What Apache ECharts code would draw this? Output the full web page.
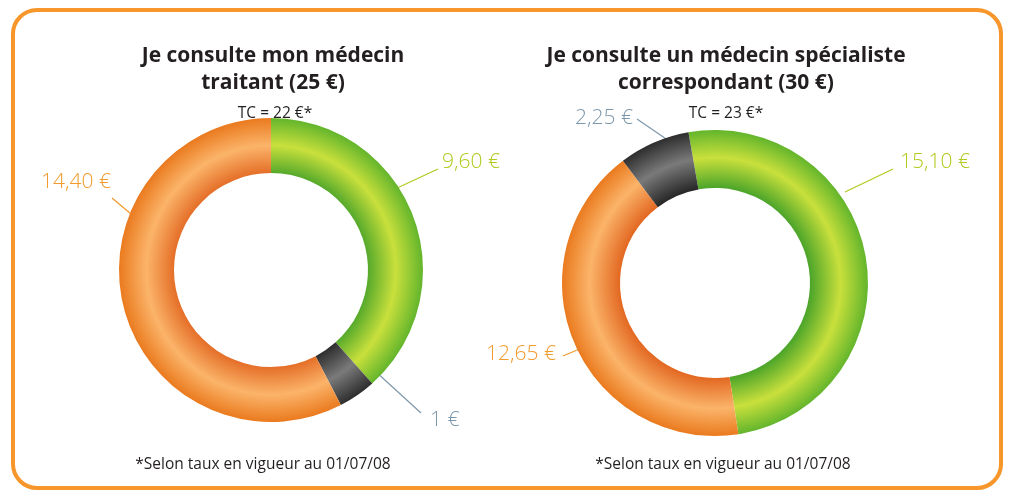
<!DOCTYPE html>
<html>
<head>
<meta charset="utf-8">
<script src="https://cdn.jsdelivr.net/npm/echarts@6/dist/echarts.min.js"></script>
<style>
  html, body { margin: 0; padding: 0; background: #fff; }
  #main { width: 1009px; height: 491px; }
</style>
</head>
<body>
<div id="main"></div>
<script>
// donnees
var parts = ['Part remboursée', 'Participation forfaitaire', 'Complémentaire'];
var leftValues = [9.60, 1, 14.40];
var rightValues = [15.10, 12.65, 2.25];
var rightParts = ['Part remboursée', 'Complémentaire', 'Participation forfaitaire'];
var titles = ['Je consulte mon médecin\ntraitant (25 €)', 'Je consulte un médecin spécialiste\ncorrespondant (30 €)'];
var tcLabels = ['TC = 22 €*', 'TC = 23 €*'];
var footnote = '*Selon taux en vigueur au 01/07/08';

var ORANGE = '#f39a2c', GREEN = '#b3c91f', GREY = '#7d97aa';

function fmt(v) {
    var s = (v % 1 === 0) ? String(v) : v.toFixed(2);
    return s.replace('.', ',') + ' €';
}

// degrade "tube" pour chaque couleur
function tube(cx, cy, r, c1, c2, c3) {
    return {
        type: 'radial', x: cx, y: cy, r: r, global: true,
        colorStops: [
            { offset: 0.6, color: c1 },
            { offset: 0.82, color: c2 },
            { offset: 1, color: c3 }
        ]
    };
}

var L = { cx: 271, cy: 270, r: 152 };
var R = { cx: 715, cy: 283, r: 153 };

function styleFor(name, c) {
    if (name === 'Part remboursée') return { color: tube(c.cx, c.cy, c.r, '#3e9e28', '#c9e03c', '#63b52c') };
    if (name === 'Complémentaire') return { color: tube(c.cx, c.cy, c.r, '#e0601a', '#fbb46a', '#ea7a1e') };
    return { color: tube(c.cx, c.cy, c.r, '#1e1e1e', '#7a7a7a', '#2e2e2e') };
}
function labelColor(name) {
    if (name === 'Part remboursée') return GREEN;
    if (name === 'Complémentaire') return ORANGE;
    return GREY;
}

function buildData(names, values, c) {
    return values.map(function (v, i) {
        return {
            name: names[i],
            value: v,
            itemStyle: styleFor(names[i], c),
            label: { color: labelColor(names[i]) },
            labelLine: { lineStyle: { color: labelColor(names[i]) } }
        };
    });
}

// position des etiquettes : [x, y, align, debut du trait, fin du trait]
var leftPos = [
    [442, 162, 'left', [395, 189], [438, 169]],
    [430, 420, 'left', [352, 350], [421, 413]],
    [111, 182, 'right', [131, 214], [112, 198]]
];
var rightPos = [
    [900, 162, 'left', [845, 192], [893, 169]],
    [556, 354, 'right', [596, 342], [563, 356]],
    [633, 118, 'right', [672, 143], [637, 119]]
];

function layoutFrom(pos) {
    return function (p) {
        var q = pos[p.dataIndex];
        return {
            x: q[0], y: q[1], align: q[2], verticalAlign: 'middle',
            labelLinePoints: [q[3], q[4], q[4]]
        };
    };
}

var chart = echarts.init(document.getElementById('main'));
var commonLabel = {
    show: true,
    formatter: function (p) { return fmt(p.value); },
    fontFamily: 'Open Sans',
    fontSize: 21,
    fontWeight: 300,
    overflow: 'none',
    width: 120
};
var titleStyle = { fontFamily: 'Open Sans', fontWeight: 'bold', fontSize: 21, lineHeight: 27, color: '#231f20' };
var smallStyle = { fontFamily: 'Open Sans', fontWeight: 'normal', fontSize: 15.5, color: '#231f20' };

var option = {
    animation: false,
    title: [
        { text: titles[0], left: 268, top: 38, textAlign: 'center', textStyle: titleStyle },
        { text: titles[1], left: 721, top: 38, textAlign: 'center', textStyle: titleStyle },
        { text: tcLabels[0], left: 270, top: 101, textAlign: 'center', textStyle: smallStyle },
        { text: tcLabels[1], left: 721, top: 101, textAlign: 'center', textStyle: smallStyle },
        { text: footnote, left: 258, top: 452, textAlign: 'center', textStyle: smallStyle },
        { text: footnote, left: 718, top: 452, textAlign: 'center', textStyle: smallStyle }
    ],
    graphic: [{
        type: 'rect',
        shape: { x: 13, y: 10, width: 988, height: 478, r: 24 },
        style: { fill: 'none', stroke: '#f7962a', lineWidth: 4 }
    }],
    series: [
        {
            type: 'pie',
            center: [L.cx, L.cy],
            radius: [97, L.r],
            startAngle: 90,
            clockwise: true,
            label: commonLabel,
            labelLine: { show: true, lineStyle: { width: 1.2 } },
            labelLayout: layoutFrom(leftPos),
            data: buildData(parts, leftValues, L)
        },
        {
            type: 'pie',
            center: [R.cx, R.cy],
            radius: [95, R.r],
            startAngle: 100,
            clockwise: true,
            label: commonLabel,
            labelLine: { show: true, lineStyle: { width: 1.2 } },
            labelLayout: layoutFrom(rightPos),
            data: buildData(rightParts, rightValues, R)
        }
    ]
};
chart.setOption(option);
</script>
</body>
</html>
